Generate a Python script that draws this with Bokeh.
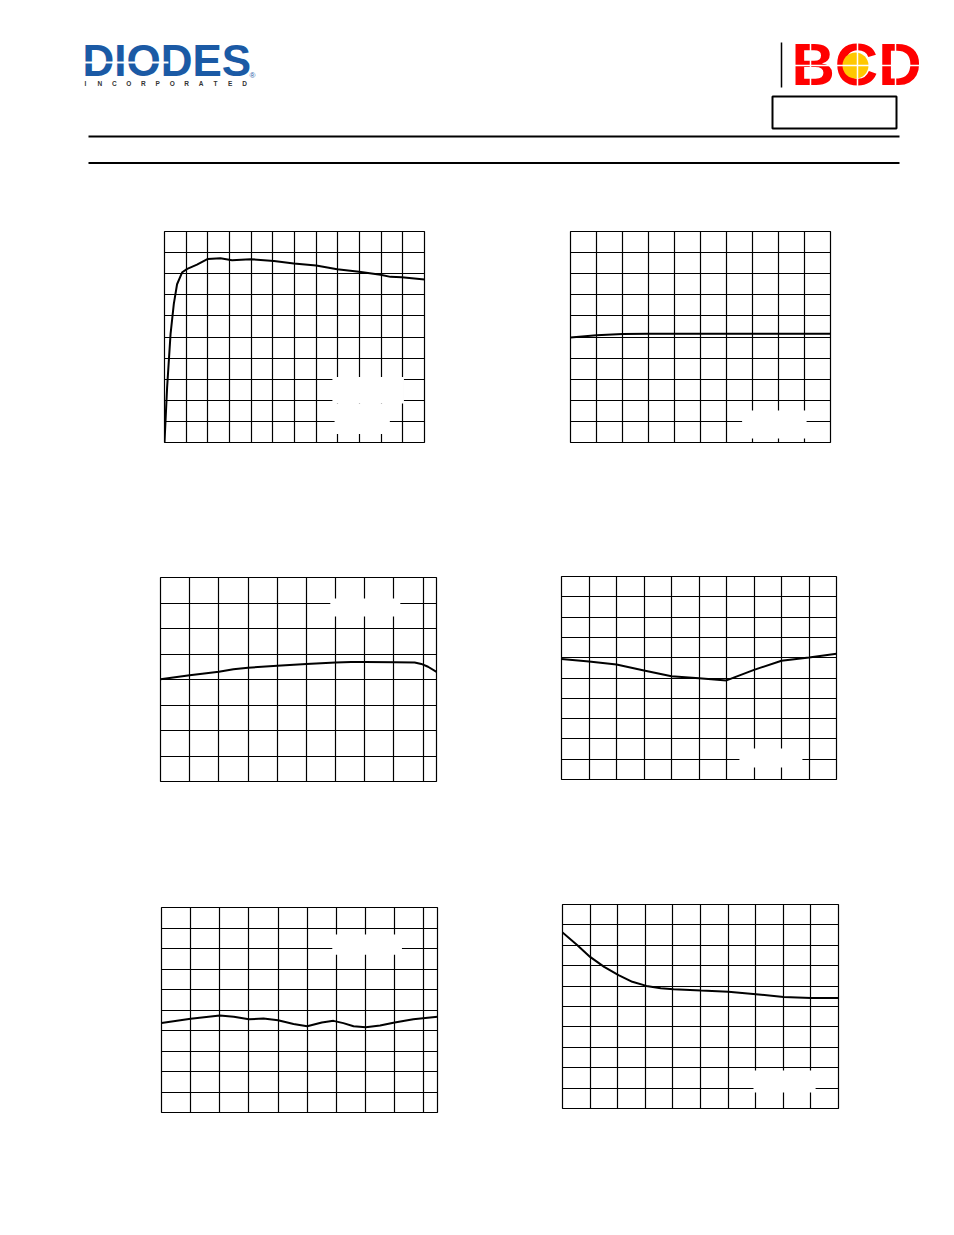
import numpy as np
from bokeh.plotting import figure
from bokeh.models import Range1d, Grid, FixedTicker, Spacer
from bokeh.layouts import column, row
from bokeh.embed import file_html
from bokeh.resources import INLINE
from bokeh.core.properties import value

# ---------------- data (grid units) ----------------
c1_x = [0, 0.12, 0.28, 0.43, 0.58, 0.82, 1.05, 1.5, 2.0, 2.58, 3.12, 3.97, 5.05, 5.97, 7.0, 7.97, 8.98, 9.97, 10.43, 10.95, 12]
c1_y = [0, 2.6, 5.15, 6.57, 7.5, 8.07, 8.23, 8.43, 8.7, 8.73, 8.64, 8.69, 8.6, 8.48, 8.39, 8.21, 8.09, 7.95, 7.85, 7.83, 7.72]

c2_x = [0, 1, 2, 3, 4, 5, 6, 7, 8, 9, 10]
c2_y = [4.98, 5.08, 5.14, 5.15, 5.15, 5.15, 5.15, 5.15, 5.15, 5.15, 5.15]

c3_x = [0, 1, 2, 2.5, 3, 4, 5, 6, 6.54, 7.02, 8.03, 8.71, 8.94, 9.17, 9.46]
c3_y = [4.01, 4.17, 4.3, 4.4, 4.46, 4.54, 4.61, 4.67, 4.69, 4.69, 4.68, 4.67, 4.61, 4.5, 4.3]

c4_x = [0, 1, 2, 3, 4, 5, 6, 7, 8, 9, 10]
c4_y = [5.94, 5.81, 5.67, 5.37, 5.09, 4.99, 4.88, 5.40, 5.85, 6.01, 6.19]

c5_x = [0, 1, 2, 2.48, 3, 3.5, 4, 4.53, 5, 5.5, 5.9, 6.24, 6.59, 7.01, 7.5, 8, 8.64, 9.47]
c5_y = [4.37, 4.57, 4.73, 4.67, 4.55, 4.58, 4.5, 4.32, 4.21, 4.39, 4.47, 4.36, 4.21, 4.16, 4.24, 4.39, 4.55, 4.67]

c6_x = [0, 0.54, 1, 1.51, 2.03, 2.53, 3.04, 3.56, 4.02, 5.02, 6.01, 7.01, 8.01, 9, 10]
c6_y = [8.63, 8.0, 7.43, 6.94, 6.54, 6.21, 6.01, 5.9, 5.85, 5.78, 5.72, 5.6, 5.47, 5.42, 5.42]

# blanked legend areas (grid units): left, right, bottom, top
c1_boxes = [(7.75, 11.05, 1.85, 3.1), (7.85, 10.4, 0.4, 1.85)]
c2_boxes = [(6.6, 9.08, 0.19, 1.52)]
c3_boxes = [(5.82, 8.22, 6.47, 7.18)]
c4_boxes = [(6.47, 8.76, 0.59, 1.53)]
c5_boxes = [(5.86, 8.25, 7.7, 8.68)]
c6_boxes = [(6.92, 9.17, 0.78, 1.86)]

B = 2  # border around each frame


def make_chart(fw, fh, xmax, ymax, xs, ys, boxes):
    p = figure(width=fw + 2 * B, height=fh + 2 * B,
               x_range=Range1d(0, xmax), y_range=Range1d(0, ymax),
               x_axis_type=None, y_axis_type=None,
               toolbar_location=None, output_backend="svg",
               min_border=B, min_border_left=B, min_border_right=B,
               min_border_top=B, min_border_bottom=B,
               outline_line_color="black", outline_line_width=1.2,
               background_fill_color="white", border_fill_color="white")
    xt = [i for i in range(1, int(np.ceil(xmax))) if i < xmax]
    yt = [i for i in range(1, int(np.ceil(ymax))) if i < ymax]
    p.add_layout(Grid(dimension=0, ticker=FixedTicker(ticks=xt),
                      grid_line_color="black", grid_line_width=1.2))
    p.add_layout(Grid(dimension=1, ticker=FixedTicker(ticks=yt),
                      grid_line_color="black", grid_line_width=1.2))
    if boxes:
        p.quad(left=[b[0] for b in boxes], right=[b[1] for b in boxes],
               bottom=[b[2] for b in boxes], top=[b[3] for b in boxes],
               fill_color="white", line_color=None)
    p.line(xs, ys, line_color="black", line_width=2)
    return p


def cell(fig, top):
    return column(Spacer(width=fig.width, height=top), fig, spacing=0)


# ---------------- header ----------------
h = figure(width=938, height=192, x_range=Range1d(0, 938), y_range=Range1d(192, 0),
           x_axis_type=None, y_axis_type=None, toolbar_location=None,
           output_backend="svg", min_border=0, min_border_left=0, min_border_right=0,
           min_border_top=0, min_border_bottom=0, outline_line_color=None)
h.text(x=[82], y=[60], text=["DIODES"], text_font=value("Liberation Sans"),
       text_font_style="bold", text_font_size="44px", text_color="#1b5aa5",
       text_baseline="alphabetic")
h.segment(x0=[84], y0=[62], x1=[168], y1=[62], line_color="white", line_width=2)
letters = list("INCORPORATED")
h.text(x=list(np.linspace(85, 244, len(letters))), y=[83] * len(letters), text=letters,
       text_font=value("Liberation Sans"), text_font_style="bold", text_font_size="6.5px",
       text_color="#333333", text_align="center", text_baseline="alphabetic")
h.text(x=[249], y=[75], text=["®"], text_font=value("Liberation Sans"),
       text_font_size="8px", text_color="#1b5aa5", text_baseline="alphabetic")

h.segment(x0=[781], y0=[42], x1=[781], y1=[87], line_color="black", line_width=1.5)
h.text(x=[791], y=[64], text=["BCD"], text_font=value("Liberation Sans"),
       text_font_style="bold", text_font_size="60px", text_color="#ff0000",
       text_baseline="alphabetic")
h.scatter(x=[855], y=[65], size=26, fill_color="#ffc800", line_color=None)
h.segment(x0=[810, 857, 895, 792], y0=[40, 40, 40, 65], x1=[810, 857, 895, 920],
          y1=[89, 89, 89, 65], line_color="white", line_width=1.5)
h.quad(left=[772], right=[896], top=[96], bottom=[128], fill_color=None,
       line_color="black", line_width=2)
h.segment(x0=[88, 88], y0=[136, 162.5], x1=[899, 899], y1=[136, 162.5],
          line_color="black", line_width=2)

# ---------------- charts ----------------
p1 = make_chart(260, 211, 12, 10, c1_x, c1_y, c1_boxes)
p2 = make_chart(260, 211, 10, 10, c2_x, c2_y, c2_boxes)
p3 = make_chart(276, 204, 9.46, 8, c3_x, c3_y, c3_boxes)
p4 = make_chart(275, 203, 10, 10, c4_x, c4_y, c4_boxes)
p5 = make_chart(276, 205, 9.47, 10, c5_x, c5_y, c5_boxes)
p6 = make_chart(276, 204, 10, 10, c6_x, c6_y, c6_boxes)

r1 = row(Spacer(width=162, height=10), cell(p1, 37), Spacer(width=142, height=10), cell(p2, 37), spacing=0)
r2 = row(Spacer(width=158, height=10), cell(p3, 131), Spacer(width=121, height=10), cell(p4, 130), spacing=0)
r3 = row(Spacer(width=159, height=10), cell(p5, 122), Spacer(width=121, height=10), cell(p6, 119), spacing=0)

page = column(h, r1, r2, r3, spacing=0)

open("out.html", "w").write(file_html(page, INLINE))
